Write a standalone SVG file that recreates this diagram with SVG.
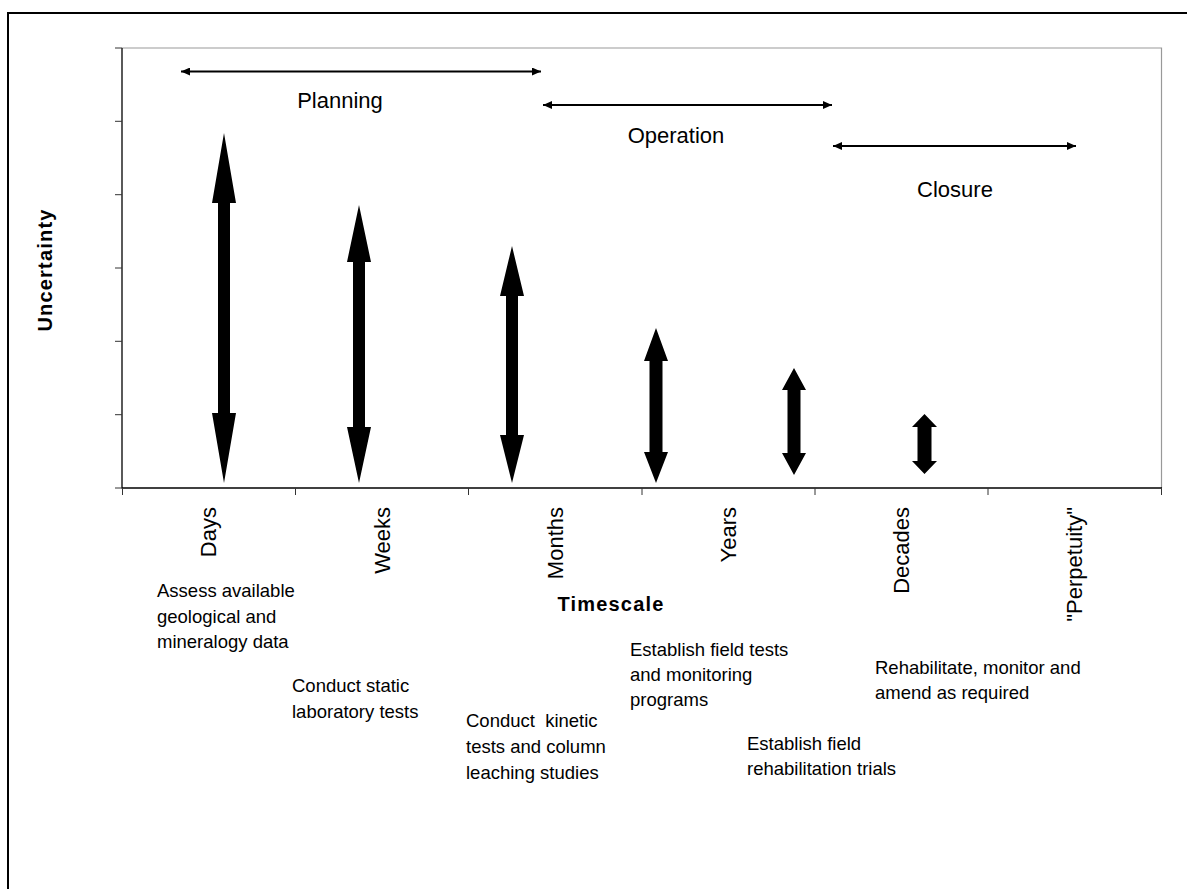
<svg xmlns="http://www.w3.org/2000/svg" width="1187" height="889" viewBox="0 0 1187 889">
<style>
  text { font-family: "Liberation Sans", Arial, sans-serif; fill: #000; }
  .lbl { font-size: 18.5px; }
  .phase { font-size: 22px; }
  .cat { font-size: 22px; }
  .ttl { font-size: 20px; font-weight: bold; letter-spacing: 1.2px; }
  .thin { stroke: #000; stroke-width: 2; fill: none; }
  .big { fill: #000; stroke: none; }
  .tick { stroke: #333; stroke-width: 1; }
</style>
<defs>
  <marker id="ah" viewBox="0 0 9 8" refX="9" refY="4" markerWidth="9" markerHeight="8" markerUnits="userSpaceOnUse" orient="auto-start-reverse">
    <path d="M0,0 L9,4 L0,8 Z" fill="#000"/>
  </marker>
</defs>
<rect width="1187" height="889" fill="#fff"/>
<!-- outer frame -->
<path d="M8,889 L8,13 L1187,13" stroke="#000" stroke-width="2" fill="none"/>
<!-- plot area -->
<g id="plot">
  <path d="M122,48 L1161.5,48 L1161.5,488" stroke="#999" stroke-width="1.2" fill="none"/>
  <line x1="122" y1="48" x2="122" y2="488.5" stroke="#000" stroke-width="1.3"/>
  <line x1="122" y1="488" x2="1162" y2="488" stroke="#000" stroke-width="1.3"/>
  <g class="tick">
    <line x1="115" y1="48" x2="122" y2="48"/>
    <line x1="115" y1="121.3" x2="122" y2="121.3"/>
    <line x1="115" y1="194.7" x2="122" y2="194.7"/>
    <line x1="115" y1="268" x2="122" y2="268"/>
    <line x1="115" y1="341.3" x2="122" y2="341.3"/>
    <line x1="115" y1="414.7" x2="122" y2="414.7"/>
    <line x1="115" y1="488" x2="122" y2="488"/>
    <line x1="122.5" y1="488" x2="122.5" y2="495"/>
    <line x1="295.5" y1="488" x2="295.5" y2="495"/>
    <line x1="468.5" y1="488" x2="468.5" y2="495"/>
    <line x1="642" y1="488" x2="642" y2="495"/>
    <line x1="815" y1="488" x2="815" y2="495"/>
    <line x1="988" y1="488" x2="988" y2="495"/>
    <line x1="1161.5" y1="488" x2="1161.5" y2="495"/>
  </g>
</g>
<!-- axis titles -->
<g id="axis-titles">
  <text class="ttl" transform="translate(52,270) rotate(-90)" text-anchor="middle">Uncertainty</text>
  <text class="ttl" x="611" y="611" text-anchor="middle">Timescale</text>
</g>
<!-- category labels -->
<g id="categories">
  <text class="cat" transform="translate(216,507) rotate(-90)" text-anchor="end">Days</text>
  <text class="cat" transform="translate(389.5,507) rotate(-90)" text-anchor="end">Weeks</text>
  <text class="cat" transform="translate(562.5,507) rotate(-90)" text-anchor="end">Months</text>
  <text class="cat" transform="translate(736,507) rotate(-90)" text-anchor="end">Years</text>
  <text class="cat" transform="translate(909,507) rotate(-90)" text-anchor="end">Decades</text>
  <text class="cat" transform="translate(1082,507) rotate(-90)" text-anchor="end">"Perpetuity"</text>
</g>
<!-- connectors: thin phase arrows and thick uncertainty arrows -->
<g id="connectors">
  <line class="thin" x1="181" y1="71.5" x2="541" y2="71.5" marker-start="url(#ah)" marker-end="url(#ah)"/>
  <line class="thin" x1="543" y1="105" x2="832" y2="105" marker-start="url(#ah)" marker-end="url(#ah)"/>
  <line class="thin" x1="833" y1="146" x2="1076" y2="146" marker-start="url(#ah)" marker-end="url(#ah)"/>
  <polygon class="big" points="224,133 236,203 230,203 230,413 236,413 224,483 212,413 218,413 218,203 212,203"/>
  <polygon class="big" points="359,205 371,262 365,262 365,427 371,427 359,483 347,427 353,427 353,262 347,262"/>
  <polygon class="big" points="512,246 524,296 518,296 518,435 524,435 512,483 500,435 506,435 506,296 500,296"/>
  <polygon class="big" points="656,328 668,361 662.5,361 662.5,452 668,452 656,483 644,452 649.5,452 649.5,361 644,361"/>
  <polygon class="big" points="794,368 806,390 800.5,390 800.5,453 806,453 794,475 782,453 787.5,453 787.5,390 782,390"/>
  <polygon class="big" points="924.5,414 937,427 931.5,427 931.5,461 937,461 924.5,474 912,461 917.5,461 917.5,427 912,427"/>
</g>
<!-- phase labels -->
<g id="phase-planning"><text class="phase" x="340" y="108" text-anchor="middle">Planning</text></g>
<g id="phase-operation"><text class="phase" x="676" y="143" text-anchor="middle">Operation</text></g>
<g id="phase-closure"><text class="phase" x="955" y="197" text-anchor="middle">Closure</text></g>
<!-- activity notes -->
<g id="note-assess">
  <text class="lbl" x="157" y="597">Assess available</text>
  <text class="lbl" x="157" y="623">geological and</text>
  <text class="lbl" x="157" y="648">mineralogy data</text>
</g>
<g id="note-static">
  <text class="lbl" x="292" y="692">Conduct static</text>
  <text class="lbl" x="292" y="718">laboratory tests</text>
</g>
<g id="note-kinetic">
  <text class="lbl" x="466" y="727" xml:space="preserve">Conduct  kinetic</text>
  <text class="lbl" x="466" y="753">tests and column</text>
  <text class="lbl" x="466" y="779">leaching studies</text>
</g>
<g id="note-field">
  <text class="lbl" x="630" y="656">Establish field tests</text>
  <text class="lbl" x="630" y="681">and monitoring</text>
  <text class="lbl" x="630" y="706">programs</text>
</g>
<g id="note-rehab-trials">
  <text class="lbl" x="747" y="750">Establish field</text>
  <text class="lbl" x="747" y="775">rehabilitation trials</text>
</g>
<g id="note-rehabilitate">
  <text class="lbl" x="875" y="674">Rehabilitate, monitor and</text>
  <text class="lbl" x="875" y="699">amend as required</text>
</g>
</svg>
